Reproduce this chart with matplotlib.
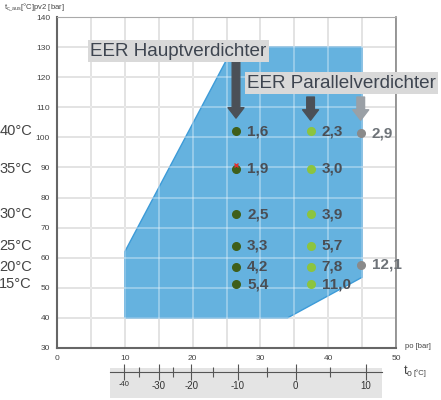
import matplotlib
matplotlib.use("Agg")
import matplotlib.pyplot as plt
from matplotlib.patches import Polygon
from matplotlib.transforms import offset_copy

plt.rcParams['font.family'] = ['Liberation Sans', 'DejaVu Sans']

# Einsatzgrenze (po [bar], pv2 [bar])
envelope_po = [10, 10, 26, 45, 45, 34]
envelope_pv2 = [40, 62, 130, 130, 53.5, 40]

# Gaskühler-Austrittstemperaturen und zugehörige Drücke
tc_labels = ["40°C", "35°C", "30°C", "25°C", "20°C", "15°C"]
pv2_levels = [102, 89.5, 74.4, 64, 57, 51.2]

# EER Hauptverdichter
haupt_po = 26.4
haupt_eer = ["1,6", "1,9", "2,5", "3,3", "4,2", "5,4"]

# EER Parallelverdichter
parallel_po = 37.4
parallel_eer = ["2,3", "3,0", "3,9", "5,7", "7,8", "11,0"]

# Parallelverdichter (zweiter Punkt)
extra_po = 44.8
extra_pv2 = [101.4, 57.6]
extra_eer = ["2,9", "12,1"]

# Verdampfungstemperatur t0 und Druckposition
t0_ticks = [-40, -35, -30, -25, -20, -15, -10, -5, 0, 5, 10]
t0_po = [9.9, 12.1, 15.0, 17.1, 19.8, 23.0, 26.7, 31.0, 35.2, 40.3, 45.6]

W, H = 441, 400
fig = plt.figure(figsize=(W / 100, H / 100), dpi=100)

ax = fig.add_axes([57 / W, 1 - 348 / H, 339 / W, 331 / H])
ax.set_xlim(0, 50)
ax.set_ylim(30, 140)
ax.set_xticks(range(0, 51, 10))
ax.set_xticks(range(0, 51, 5), minor=True)
ax.set_yticks(range(30, 141, 10))
ax.grid(True, which='both', color='#d2d2d2', lw=1.3, zorder=0)
ax.set_axisbelow(True)
ax.tick_params(which='both', length=0, labelsize=6, labelcolor='#444444', pad=5)
for s in ['left', 'bottom']:
    ax.spines[s].set_color('#666666')
    ax.spines[s].set_linewidth(1.5)
ax.spines['top'].set_color('#aaaaaa')
ax.spines['right'].set_color('#888888')
ax.spines['right'].set_linewidth(1.2)

poly = Polygon(list(zip(envelope_po, envelope_pv2)), closed=True,
               facecolor='#65b2df', edgecolor='#3d9bd8', lw=1, zorder=1)
ax.add_patch(poly)
# helle Gitterlinien über der Fläche
for gx in range(5, 50, 5):
    ax.axvline(gx, color='white', alpha=0.35, lw=1.3, zorder=1.5)
for gy in range(40, 140, 10):
    ax.axhline(gy, color='white', alpha=0.35, lw=1.3, zorder=1.5)

# Punkte
ax.plot([haupt_po] * len(pv2_levels), pv2_levels, 'o', color='#3f5f1a', ms=5.5, zorder=4)
ax.plot([parallel_po] * len(pv2_levels), pv2_levels, 'o', color='#8cc43f', ms=5.5, zorder=4)
ax.plot([extra_po] * len(extra_pv2), extra_pv2, 'o', color='#8a8a8a', ms=5.5, zorder=4)
red_tr = offset_copy(ax.transData, fig=fig, x=0, y=2.5, units='points')
ax.plot([haupt_po], [pv2_levels[1]], 'x', color='#e03030', ms=3, mew=1, transform=red_tr, zorder=5)

for y, lab in zip(pv2_levels, haupt_eer):
    ax.annotate(lab, (haupt_po, y), xytext=(8, 0), textcoords='offset points',
                va='center', ha='left', fontsize=11, fontweight='bold', color='#4a4e55', zorder=5)
for y, lab in zip(pv2_levels, parallel_eer):
    ax.annotate(lab, (parallel_po, y), xytext=(8, 0), textcoords='offset points',
                va='center', ha='left', fontsize=11, fontweight='bold', color='#4a4e55', zorder=5)
for y, lab in zip(extra_pv2, extra_eer):
    ax.annotate(lab, (extra_po, y), xytext=(8, 0), textcoords='offset points',
                va='center', ha='left', fontsize=11, fontweight='bold', color='#6e7378',
                annotation_clip=False, zorder=5)

# Temperaturen links
for y, lab in zip(pv2_levels, tc_labels):
    ax.text(-0.074, y, lab, transform=ax.get_yaxis_transform(), ha='right', va='center',
            fontsize=10.5, color='#444444')

# Überschriften mit Pfeilen
box = dict(boxstyle='square,pad=0.12', fc='#d9d9d9', ec='none')
ax.text(4.9, 128.7, "EER Hauptverdichter", fontsize=13.6, color='#3e4550',
        va='center', ha='left', bbox=box, zorder=6, clip_on=False)
ax.text(28.0, 118.0, "EER Parallelverdichter", fontsize=13.6, color='#3e4550',
        va='center', ha='left', bbox=box, zorder=6, clip_on=False)

arrow_style = 'simple,head_length=0.75,head_width=1.15,tail_width=0.55'
ax.annotate('', xy=(haupt_po, 106.4), xytext=(haupt_po, 125),
            arrowprops=dict(arrowstyle=arrow_style, color='#4b5057', shrinkA=0, shrinkB=0,
                            mutation_scale=10), zorder=5)
ax.annotate('', xy=(parallel_po, 105.7), xytext=(parallel_po, 113.4),
            arrowprops=dict(arrowstyle=arrow_style, color='#4b5057', shrinkA=0, shrinkB=0,
                            mutation_scale=10), zorder=5)
ax.annotate('', xy=(extra_po, 105.7), xytext=(extra_po, 113.4),
            arrowprops=dict(arrowstyle=arrow_style, color='#9aa0a6', shrinkA=0, shrinkB=0,
                            mutation_scale=10), zorder=5)

# t0-Skala unten
bx = fig.add_axes([110 / W, 1 - 398 / H, 272 / W, 30 / H])
bx.set_facecolor('#e4e4e4')
bx.set_xlim((110 - 57) / 6.78, (382 - 57) / 6.78)
bx.set_ylim(0, 1)
bx.set_yticks([])
for s in ['left', 'right', 'top']:
    bx.spines[s].set_visible(False)
bx.spines['bottom'].set_position(('axes', 0.867))
bx.spines['bottom'].set_color('#555555')
bx.spines['bottom'].set_linewidth(0.8)
major_po = [p for p, t in zip(t0_po, t0_ticks) if t % 10 == 0]
major_lab = [str(t) for t in t0_ticks if t % 10 == 0]
minor_po = [p for p, t in zip(t0_po, t0_ticks) if t % 10 != 0]
bx.set_xticks(major_po)
bx.set_xticklabels(major_lab)
bx.set_xticks(minor_po, minor=True)
bx.tick_params(which='major', direction='inout', length=11, width=0.8, color='#555555',
               labelsize=7, labelcolor='#333333', pad=1)
bx.tick_params(which='minor', direction='inout', length=7, width=0.8, color='#555555')
bx.get_xticklabels()[0].set_fontsize(5.5)

fig.text(405 / W, 1 - 347 / H, "po [bar]", fontsize=5.5, color='#444444', ha='left', va='center')
fig.text(403 / W, 1 - 371 / H, r"t$_{\mathregular{o}}$", fontsize=9, color='#444444', ha='left', va='center')
fig.text(414 / W, 1 - 373 / H, "[°C]", fontsize=5.5, color='#444444', ha='left', va='center')
fig.text(4 / W, 1 - 7 / H, r"t$_{\mathregular{c\_aus}}$[°C]pv2 [bar]", fontsize=5.5,
         color='#444444', ha='left', va='center')

fig.savefig("out.png", dpi=100)
